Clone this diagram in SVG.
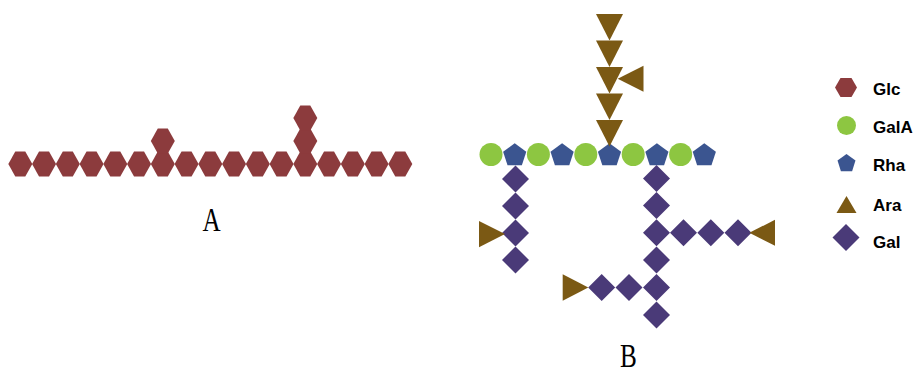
<svg xmlns="http://www.w3.org/2000/svg" width="917" height="368" viewBox="0 0 917 368">
  <style>
    .glc { fill: #8c3b3d; }
    .gala { fill: #8dc641; }
    .rha { fill: #3b5590; }
    .ara { fill: #7b5914; }
    .gal { fill: #4a3a78; }
    .panel { font-family: "Liberation Serif", "Times New Roman", serif; font-size: 34px; fill: #000; }
    .key { font-family: "Liberation Sans", Arial, sans-serif; font-size: 17px; font-weight: bold; fill: #000; }
  </style>
  <defs>
    <polygon id="hex" points="-12,0 -5,-12.5 5,-12.5 12,0 5,12.5 -5,12.5"/>
    <polygon id="pent" points="0,-12.2 11.6,-3.77 7.17,9.87 -7.17,9.87 -11.6,-3.77"/>
    <polygon id="dia" points="0,-13.5 13.5,0 0,13.5 -13.5,0"/>
    <polygon id="triDown" points="-13.5,0 13.5,0 0,26.5"/>
  </defs>

  <!-- Panel A: glucan backbone with side branches -->
  <g id="panelA" class="glc">
    <g id="a0"><use href="#hex" x="20.3" y="164"/></g>
    <g id="a1"><use href="#hex" x="44.05" y="164"/></g>
    <g id="a2"><use href="#hex" x="67.8" y="164"/></g>
    <g id="a3"><use href="#hex" x="91.55" y="164"/></g>
    <g id="a4"><use href="#hex" x="115.3" y="164"/></g>
    <g id="a5"><use href="#hex" x="139.05" y="164"/></g>
    <g id="a6"><use href="#hex" x="162.8" y="164"/></g>
    <g id="a7"><use href="#hex" x="186.55" y="164"/></g>
    <g id="a8"><use href="#hex" x="210.3" y="164"/></g>
    <g id="a9"><use href="#hex" x="234.05" y="164"/></g>
    <g id="a10"><use href="#hex" x="257.8" y="164"/></g>
    <g id="a11"><use href="#hex" x="281.55" y="164"/></g>
    <g id="a12"><use href="#hex" x="305.3" y="164"/></g>
    <g id="a13"><use href="#hex" x="329.05" y="164"/></g>
    <g id="a14"><use href="#hex" x="352.8" y="164"/></g>
    <g id="a15"><use href="#hex" x="376.55" y="164"/></g>
    <g id="a16"><use href="#hex" x="400.3" y="164"/></g>
    <g id="a6b1"><use href="#hex" x="162.8" y="141"/></g>
    <g id="a12b1"><use href="#hex" x="305.3" y="141"/></g>
    <g id="a12b2"><use href="#hex" x="305.3" y="118"/></g>
  </g>
  <text class="panel" transform="translate(211.5,231) scale(0.74,1)" text-anchor="middle">A</text>

  <!-- Panel B: rhamnogalacturonan backbone -->
  <g id="backbone">
    <g id="b0" class="gala"><circle cx="491" cy="154.5" r="11.5"/></g>
    <g id="b1" class="rha"><use href="#pent" x="514.7" y="155.5"/></g>
    <g id="b2" class="gala"><circle cx="538.4" cy="154.5" r="11.5"/></g>
    <g id="b3" class="rha"><use href="#pent" x="562.1" y="155.5"/></g>
    <g id="b4" class="gala"><circle cx="585.8" cy="154.5" r="11.5"/></g>
    <g id="b5" class="rha"><use href="#pent" x="609.5" y="155.5"/></g>
    <g id="b6" class="gala"><circle cx="633.2" cy="154.5" r="11.5"/></g>
    <g id="b7" class="rha"><use href="#pent" x="656.9" y="155.5"/></g>
    <g id="b8" class="gala"><circle cx="680.6" cy="154.5" r="11.5"/></g>
    <g id="b9" class="rha"><use href="#pent" x="704.3" y="155.5"/></g>
  </g>

  <!-- arabinan side chain -->
  <g id="arabinan" class="ara">
    <g id="ara1"><use href="#triDown" x="609.5" y="14"/></g>
    <g id="ara2"><use href="#triDown" x="609.5" y="40.5"/></g>
    <g id="ara3"><use href="#triDown" x="609.5" y="67"/></g>
    <g id="ara4"><use href="#triDown" x="609.5" y="93.5"/></g>
    <g id="ara5"><use href="#triDown" x="609.5" y="120"/></g>
    <g id="ara3b"><polygon points="617.7,78.7 643.5,65.7 643.5,91.7"/></g>
  </g>

  <!-- galactan side chain on the left -->
  <g id="galactanL">
    <g id="gl1" class="gal"><use href="#dia" x="515.5" y="179"/></g>
    <g id="gl2" class="gal"><use href="#dia" x="515.5" y="206"/></g>
    <g id="gl3" class="gal"><use href="#dia" x="515.5" y="233"/></g>
    <g id="gl4" class="gal"><use href="#dia" x="515.5" y="260"/></g>
    <g id="gl3a" class="ara"><polygon points="479,221 479,247.3 505,234"/></g>
  </g>

  <!-- galactan side chain on the right -->
  <g id="galactanR">
    <g id="gr1" class="gal"><use href="#dia" x="656.5" y="178.5"/></g>
    <g id="gr2" class="gal"><use href="#dia" x="656.5" y="205.5"/></g>
    <g id="gr3" class="gal"><use href="#dia" x="656.5" y="232.8"/></g>
    <g id="gr4" class="gal"><use href="#dia" x="656.5" y="260"/></g>
    <g id="gr5" class="gal"><use href="#dia" x="656.5" y="287.5"/></g>
    <g id="gr6" class="gal"><use href="#dia" x="656.5" y="315"/></g>
    <g id="gr3b1" class="gal"><use href="#dia" x="683.5" y="232.8"/></g>
    <g id="gr3b2" class="gal"><use href="#dia" x="710.8" y="232.8"/></g>
    <g id="gr3b3" class="gal"><use href="#dia" x="738" y="232.8"/></g>
    <g id="gr3a" class="ara"><polygon points="749.3,232.8 775,219.8 775,245.8"/></g>
    <g id="gr5b1" class="gal"><use href="#dia" x="629" y="287.5"/></g>
    <g id="gr5b2" class="gal"><use href="#dia" x="601.7" y="287.5"/></g>
    <g id="gr5a" class="ara"><polygon points="562.7,274.3 562.7,300.7 588.3,287.5"/></g>
  </g>
  <text class="panel" transform="translate(628.5,366.5) scale(0.74,1)" text-anchor="middle">B</text>

  <!-- legend -->
  <g id="legend">
    <g id="key-glc">
      <polygon class="glc" points="835,87.5 840.5,78 851.5,78 857,87.5 851.5,97 840.5,97"/>
      <text class="key" x="873" y="94.5">Glc</text>
    </g>
    <g id="key-gala">
      <circle class="gala" cx="846.5" cy="125.5" r="9.5"/>
      <text class="key" x="873" y="133">GalA</text>
    </g>
    <g id="key-rha">
      <polygon class="rha" points="846.5,154 855.5,160.6 852.1,171.2 840.9,171.2 837.5,160.6"/>
      <text class="key" x="873" y="171">Rha</text>
    </g>
    <g id="key-ara">
      <polygon class="ara" points="846.5,196 856.5,213 836.5,213"/>
      <text class="key" x="873" y="210.5">Ara</text>
    </g>
    <g id="key-gal">
      <polygon class="gal" points="846,224 859.5,237.5 846,251 832.5,237.5"/>
      <text class="key" x="873" y="248">Gal</text>
    </g>
  </g>
</svg>
